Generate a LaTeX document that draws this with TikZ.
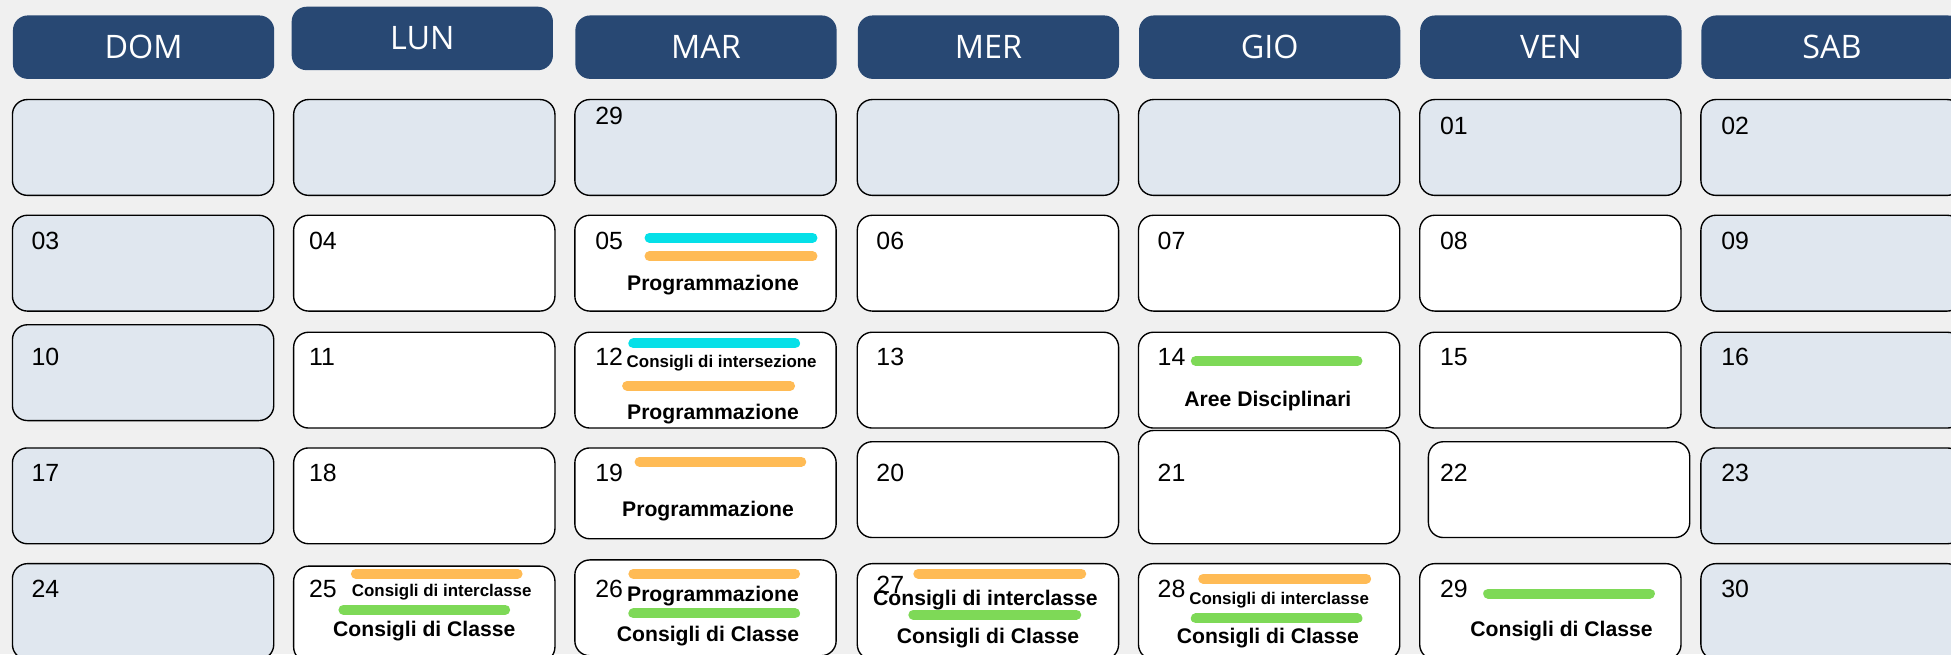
\documentclass[tikz,border=0pt]{standalone}
\usepackage{fontspec}
\setmainfont{Liberation Sans}
\newfontfamily\hdrfont{Open Sans}
\definecolor{bgc}{HTML}{F0F0F0}
\definecolor{hdrc}{HTML}{284873}
\definecolor{litec}{HTML}{E0E7EF}
\definecolor{cyanbar}{HTML}{05E0E8}
\definecolor{orangebar}{HTML}{FFBB55}
\definecolor{greenbar}{HTML}{7ED957}
\tikzset{
  cell/.style={draw=black, line width=0.55pt, rounded corners=6pt, minimum width=105pt, minimum height=38.5pt, anchor=north west, inner sep=0pt, outer sep=0pt},
  litecell/.style={cell, fill=litec},
  whitecell/.style={cell, fill=white},
  head/.style={fill=hdrc, rounded corners=6pt, minimum width=105pt, minimum height=25.5pt, anchor=north west, inner sep=0pt, text=white, font=\hdrfont\fontsize{13}{15}\selectfont},
  num/.style={anchor=west, inner sep=0pt, font=\fontsize{10}{12}\selectfont},
  lbl/.style={inner sep=0pt, font=\bfseries\fontsize{8.5}{10}\selectfont},
  slbl/.style={inner sep=0pt, font=\bfseries\fontsize{6.8}{8}\selectfont},
  bar/.style={line width=4pt, line cap=round},
}
\begin{document}
\begin{tikzpicture}[x=0.5pt,y=-0.5pt]
\clip (0,0) rectangle (1568,526);
\fill[bgc] (0,0) rectangle (1568,526);
% headers
\node[head] (hDOM) at (10,12) {DOM};
\node[head] (hLUN) at (234,5) {LUN};
\node[head] (hMAR) at (462,12) {MAR};
\node[head] (hMER) at (689,12) {MER};
\node[head] (hGIO) at (915,12) {GIO};
\node[head] (hVEN) at (1141,12) {VEN};
\node[head] (hSAB) at (1367,12) {SAB};
% row 1
\node[litecell] (c11) at (10,80) {};
\node[litecell] (c12) at (236,80) {};
\node[litecell] (c13) at (462,80) {};
\node[litecell] (c14) at (689,80) {};
\node[litecell] (c15) at (915,80) {};
\node[litecell] (c16) at (1141,80) {};
\node[litecell] (c17) at (1367,80) {};
\node[num] (n29a) at (478,93) {29};
\node[num] (n01) at (1157,101) {01};
\node[num] (n02) at (1383,101) {02};
% row 2
\node[litecell] (c21) at (10,173) {};
\node[whitecell] (c22) at (236,173) {};
\node[whitecell] (c23) at (462,173) {};
\node[whitecell] (c24) at (689,173) {};
\node[whitecell] (c25) at (915,173) {};
\node[whitecell] (c26) at (1141,173) {};
\node[litecell] (c27) at (1367,173) {};
\node[num] (n03) at (25,194) {03};
\node[num] (n04) at (248,194) {04};
\node[num] (n05) at (478,194) {05};
\node[num] (n06) at (704,194) {06};
\node[num] (n07) at (930,194) {07};
\node[num] (n08) at (1157,194) {08};
\node[num] (n09) at (1383,194) {09};
% row 3
\node[litecell] (c31) at (10,261) {};
\node[whitecell] (c32) at (236,267) {};
\node[whitecell] (c33) at (462,267) {};
\node[whitecell] (c34) at (689,267) {};
\node[whitecell] (c35) at (915,267) {};
\node[whitecell] (c36) at (1141,267) {};
\node[litecell] (c37) at (1367,267) {};
\node[num] (n10) at (25,287) {10};
\node[num] (n11) at (248,287) {11};
\node[num] (n12) at (478,287) {12};
\node[num] (n13) at (704,287) {13};
\node[num] (n14) at (930,287) {14};
\node[num] (n15) at (1157,287) {15};
\node[num] (n16) at (1383,287) {16};
% row 4
\node[litecell] (c41) at (10,360) {};
\node[whitecell] (c42) at (236,360) {};
\node[whitecell, minimum height=36.5pt] (c43) at (462,360) {};
\node[whitecell] (c44) at (689,355) {};
\node[whitecell, minimum height=45.5pt] (c45) at (915,346) {};
\node[whitecell] (c46) at (1148,355) {};
\node[litecell] (c47) at (1367,360) {};
\node[num] (n17) at (25,380) {17};
\node[num] (n18) at (248,380) {18};
\node[num] (n19) at (478,380) {19};
\node[num] (n20) at (704,380) {20};
\node[num] (n21) at (930,380) {21};
\node[num] (n22) at (1157,380) {22};
\node[num] (n23) at (1383,380) {23};
% row 5
\node[litecell] (c51) at (10,453) {};
\node[whitecell] (c52) at (236,455) {};
\node[whitecell] (c53) at (462,450) {};
\node[whitecell] (c54) at (689,453) {};
\node[whitecell] (c55) at (915,453) {};
\node[whitecell] (c56) at (1141,453) {};
\node[litecell] (c57) at (1367,453) {};
\node[num] (n24) at (25,473) {24};
\node[num] (n25) at (248,473) {25};
\node[num] (n26) at (478,473) {26};
\node[num] (n27) at (704,470) {27};
\node[num] (n28) at (930,473) {28};
\node[num] (n29b) at (1157,473) {29};
\node[num] (n30) at (1383,473) {30};
% events
% 05
\draw[bar, cyanbar] (522,191) -- (653,191);
\draw[bar, orangebar] (522,206) -- (653,206);
\node[lbl] (e05) at (573,229) {Programmazione};
% 12
\draw[bar, cyanbar] (509,276) -- (639,276);
\node[slbl] (e12a) at (580,292) {Consigli di intersezione};
\draw[bar, orangebar] (504,310) -- (635,310);
\node[lbl] (e12b) at (573,333) {Programmazione};
% 14
\draw[bar, greenbar] (961,290) -- (1091,290);
\node[lbl] (e14) at (1019,322) {Aree Disciplinari};
% 19
\draw[bar, orangebar] (514,371) -- (644,371);
\node[lbl] (e19) at (569,411) {Programmazione};
% 25
\draw[bar, orangebar] (286,461) -- (416,461);
\node[slbl] (e25a) at (355,476) {Consigli di interclasse};
\draw[bar, greenbar] (276,490) -- (406,490);
\node[lbl] (e25b) at (341,507) {Consigli di Classe};
% 26
\draw[bar, orangebar] (509,461) -- (639,461);
\node[lbl] (e26a) at (573,479) {Programmazione};
\draw[bar, greenbar] (509,493) -- (639,493);
\node[lbl] (e26b) at (569,511) {Consigli di Classe};
% 27
\draw[bar, orangebar] (738,461) -- (869,461);
\node[lbl] (e27a) at (792,482) {Consigli di interclasse};
\draw[bar, greenbar] (734,494) -- (865,494);
\node[lbl] (e27b) at (794,513) {Consigli di Classe};
% 28
\draw[bar, orangebar] (967,465) -- (1098,465);
\node[slbl] (e28a) at (1028,482) {Consigli di interclasse};
\draw[bar, greenbar] (961,497) -- (1091,497);
\node[lbl] (e28b) at (1019,513) {Consigli di Classe};
% 29
\draw[bar, greenbar] (1196,477) -- (1326,477);
\node[lbl] (e29) at (1255,507) {Consigli di Classe};
\end{tikzpicture}
\end{document}
